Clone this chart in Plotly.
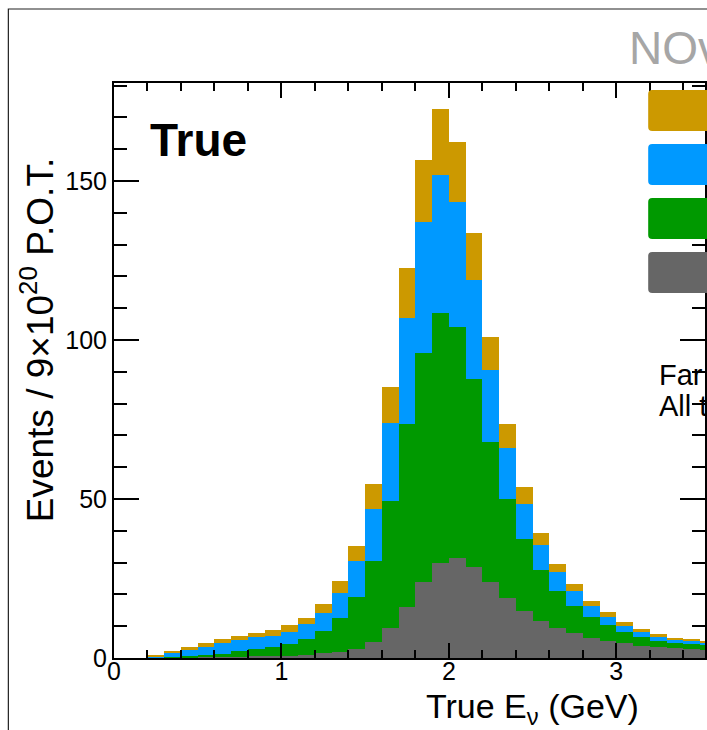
import plotly.graph_objects as go

# ---- data ----
bin_centers = [0.05, 0.15, 0.25, 0.35, 0.45, 0.55, 0.65, 0.75, 0.85, 0.95,
               1.05, 1.15, 1.25, 1.35, 1.45, 1.55, 1.65, 1.75, 1.85, 1.95,
               2.05, 2.15, 2.25, 2.35, 2.45, 2.55, 2.65, 2.75, 2.85, 2.95,
               3.05, 3.15, 3.25, 3.35, 3.45, 3.55]
gray_vals = [0, 0, 0.1, 0.2, 0.3, 0.3, 0.4, 0.4, 0.5, 0.5,
             0.6, 0.9, 1.5, 1.9, 2.9, 5.1, 9.3, 16.1, 23.8, 29.8,
             31.5, 28.7, 23.8, 19.0, 14.9, 11.7, 9.3, 7.8, 6.4, 5.4,
             4.6, 3.9, 3.4, 3.0, 2.8, 2.6]
green_vals = [0, 0, 0.1, 0.2, 0.4, 0.7, 1.0, 1.8, 2.3, 3.0,
              3.9, 5.1, 7.0, 10.8, 16.4, 25.5, 40.1, 57.4, 72.2, 78.6,
              72.7, 58.9, 44.0, 31.0, 22.4, 16.0, 11.8, 8.6, 6.6, 5.0,
              3.7, 2.6, 2.0, 1.6, 1.5, 1.4]
blue_vals = [0, 0, 0.3, 1.1, 1.8, 2.6, 3.2, 3.5, 3.7, 3.5,
             3.8, 4.6, 5.7, 7.8, 11.2, 16.3, 24.4, 33.3, 41.2, 43.5,
             39.1, 31.3, 22.8, 16.0, 11.1, 7.8, 5.8, 4.8, 3.4, 2.6,
             1.9, 1.6, 1.5, 1.3, 1.2, 1.0]
gold_vals = [0, 0, 0.5, 0.7, 0.9, 1.2, 1.4, 1.3, 1.5, 1.8,
             2.1, 2.1, 2.7, 3.8, 4.8, 7.8, 11.3, 15.8, 19.4, 20.6,
             19.1, 14.6, 10.2, 7.5, 5.3, 3.9, 2.7, 2.1, 1.5, 1.4,
             1.0, 0.9, 0.6, 0.5, 0.4, 0.3]
series_names = ["Component 4", "Component 3", "Component 2", "Component 1"]
series_colors = ["#666666", "#009900", "#0099ff", "#cc9900"]
x_ticks = [0, 1, 2, 3]
y_ticks = [0, 50, 100, 150]

W, H = 707, 730
L, R, T, B = 114, 707, 83, 658  # plot area in pixels


def px(xp):
    return (xp - L) / (R - L)


def py(yp):
    return (B - yp) / (B - T)


def rounded_box(x0, y0, x1, y1, r=4):
    # pixel box -> paper-coordinate SVG path with rounded corners
    X = lambda v: px(v)
    Y = lambda v: py(v)
    return (f"M {X(x0 + r)},{Y(y0)} L {X(x1 - r)},{Y(y0)} "
            f"Q {X(x1)},{Y(y0)} {X(x1)},{Y(y0 + r)} L {X(x1)},{Y(y1 - r)} "
            f"Q {X(x1)},{Y(y1)} {X(x1 - r)},{Y(y1)} L {X(x0 + r)},{Y(y1)} "
            f"Q {X(x0)},{Y(y1)} {X(x0)},{Y(y1 - r)} L {X(x0)},{Y(y0 + r)} "
            f"Q {X(x0)},{Y(y0)} {X(x0 + r)},{Y(y0)} Z")


FONT = "Liberation Sans, Arial, Helvetica, sans-serif"

fig = go.Figure()
for name, vals, col in zip(series_names, [gray_vals, green_vals, blue_vals, gold_vals], series_colors):
    fig.add_trace(go.Bar(x=bin_centers, y=vals, width=0.1, name=name,
                         marker=dict(color=col, line=dict(width=0)),
                         showlegend=False))

fig.update_layout(
    width=W, height=H, barmode="stack", bargap=0,
    margin=dict(l=L, r=W - R, t=T, b=H - B, pad=0),
    paper_bgcolor="white", plot_bgcolor="white",
    font=dict(family=FONT, color="black"),
    xaxis=dict(range=[0, (R - L) / 168.0], showgrid=False, zeroline=False,
               showline=True, linecolor="black", linewidth=2, mirror="ticks",
               ticks="inside", ticklen=15, tickwidth=1.5, tickcolor="black",
               tickvals=x_ticks, ticktext=[str(v) for v in x_ticks],
               tickfont=dict(size=25, family=FONT), ticklabelstandoff=-10,
               minor=dict(dtick=0.2, tick0=0, ticks="inside", ticklen=8,
                          tickwidth=1.5, tickcolor="black"),
               layer="above traces"),
    yaxis=dict(range=[0, (B - T) / 3.18], showgrid=False, zeroline=False,
               showline=True, linecolor="black", linewidth=2, mirror="ticks",
               ticks="inside", ticklen=25, tickwidth=1.5, tickcolor="black",
               tickvals=y_ticks, ticktext=[str(v) for v in y_ticks],
               tickfont=dict(size=25, family=FONT),
               minor=dict(dtick=10, tick0=0, ticks="inside", ticklen=13,
                          tickwidth=1.5, tickcolor="black"),
               layer="above traces"),
)

shapes = []
# outer canvas frame
shapes.append(dict(type="rect", xref="paper", yref="paper",
                   x0=px(8), x1=px(760), y0=py(9), y1=py(780),
                   line=dict(color="#222222", width=1.2), fillcolor="rgba(0,0,0,0)"))
# legend colour boxes (cut off at right edge)
legend_tops = [90, 144, 198, 252]
for top, col in zip(legend_tops, ["#cc9900", "#0099ff", "#009900", "#666666"]):
    shapes.append(dict(type="path", xref="paper", yref="paper",
                       path=rounded_box(650, top, 760, top + 41),
                       line=dict(width=0), fillcolor=col, layer="above"))
fig.update_layout(shapes=shapes)

ann = []
ann.append(dict(text="<b>True</b>", x=px(148), y=py(140), xref="paper", yref="paper",
                xanchor="left", yanchor="middle", showarrow=False,
                font=dict(size=46, family=FONT, color="black")))
ann.append(dict(text="NOvA Simulation", x=px(629), y=py(48), xref="paper", yref="paper",
                xanchor="left", yanchor="middle", showarrow=False,
                font=dict(size=46, family=FONT, color="#a6a6a6")))
ann.append(dict(text="Far Detector", x=px(659), y=py(375), xref="paper", yref="paper",
                xanchor="left", yanchor="middle", showarrow=False,
                font=dict(size=29, family=FONT, color="black")))
ann.append(dict(text="All true events", x=px(659), y=py(406), xref="paper", yref="paper",
                xanchor="left", yanchor="middle", showarrow=False,
                font=dict(size=29, family=FONT, color="black")))
ann.append(dict(text="True E<sub>ν</sub> (GeV)", x=px(425), y=py(708), xref="paper", yref="paper",
                xanchor="left", yanchor="middle", showarrow=False,
                font=dict(size=34, family=FONT, color="black")))
ann.append(dict(text="Events / 9×10<sup>20</sup> P.O.T.", x=px(37), y=py(340), xref="paper", yref="paper",
                xanchor="center", yanchor="middle", showarrow=False, textangle=-90,
                font=dict(size=37, family=FONT, color="black")))
fig.update_layout(annotations=ann)

fig.write_html("out.html")
